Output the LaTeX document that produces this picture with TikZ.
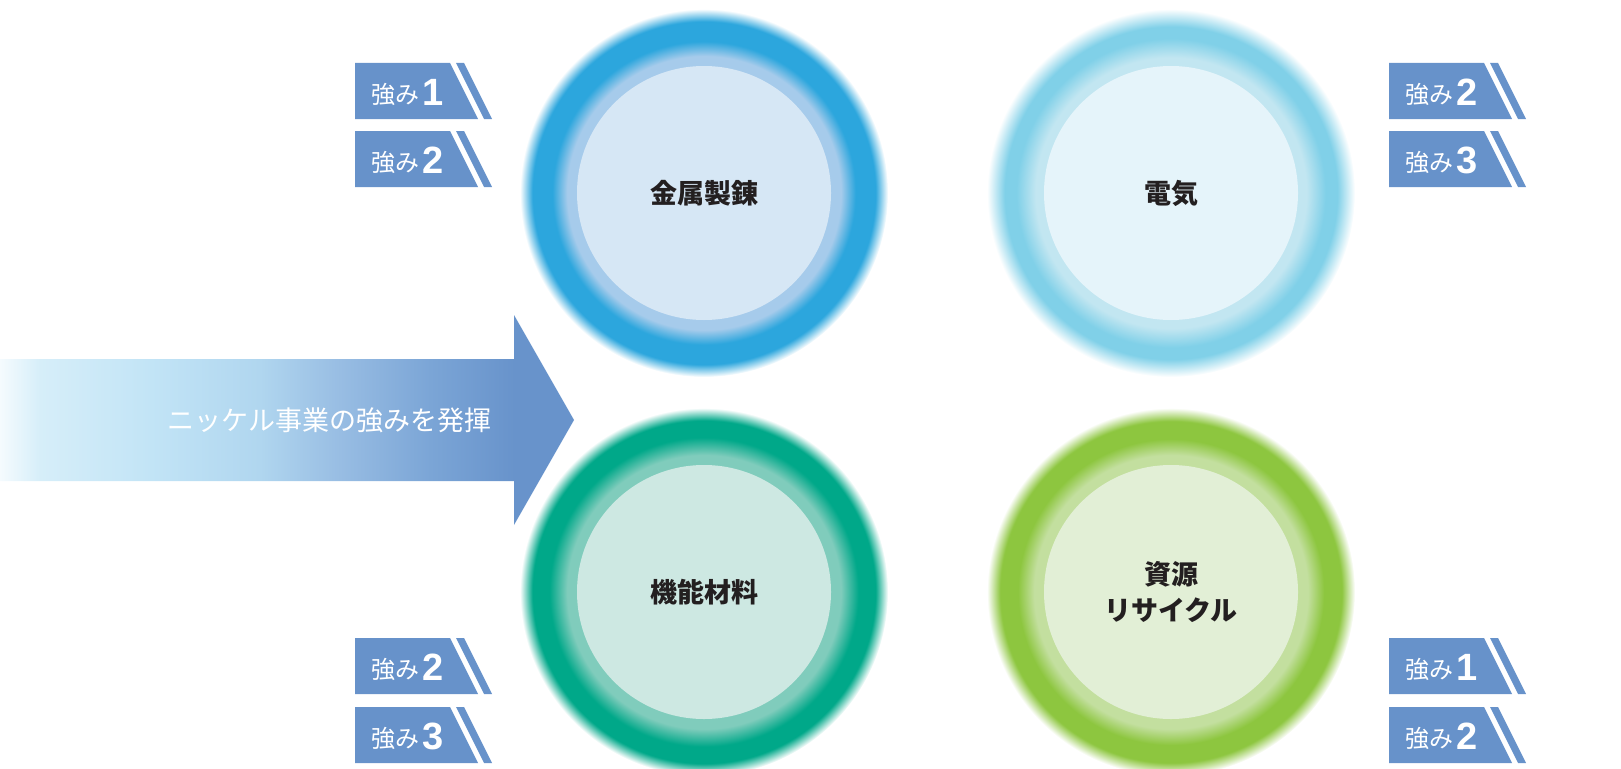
\documentclass[tikz,border=0pt]{standalone}
\usepackage{fontspec}
\newfontfamily\jp{Noto Sans CJK JP}
\newfontfamily\numfont{Liberation Sans}
\definecolor{tagblue}{HTML}{6792CA}
\definecolor{textdark}{HTML}{231F20}
\definecolor{diskA}{HTML}{D6E7F5}\definecolor{lightA}{HTML}{A6CBEB}\definecolor{strongA}{HTML}{2CA6DD}
\definecolor{diskB}{HTML}{E5F4FA}\definecolor{lightB}{HTML}{C2E6F1}\definecolor{strongB}{HTML}{80D0E8}
\definecolor{diskC}{HTML}{CDE8E2}\definecolor{lightC}{HTML}{80CCBC}\definecolor{strongC}{HTML}{00A889}
\definecolor{diskD}{HTML}{E2EFD6}\definecolor{lightD}{HTML}{C3DF9F}\definecolor{strongD}{HTML}{8DC63F}
\definecolor{arA}{HTML}{F5FBFE}\definecolor{arB}{HTML}{D6EEF9}\definecolor{arC}{HTML}{C2E4F6}
\definecolor{arD}{HTML}{B0D6EF}\definecolor{arE}{HTML}{98BDE3}\definecolor{arF}{HTML}{7BA5D6}
\definecolor{arG}{HTML}{6893CB}
\pgfdeclareradialshading{ringA}{\pgfpoint{0bp}{0bp}}{color(0bp)=(lightA); color(18.6bp)=(lightA); color(20.6bp)=(strongA); color(23.3bp)=(strongA); color(25bp)=(white); color(50bp)=(white)}
\pgfdeclareradialshading{ringB}{\pgfpoint{0bp}{0bp}}{color(0bp)=(lightB); color(18.4bp)=(lightB); color(21.0bp)=(strongB); color(22.6bp)=(strongB); color(25bp)=(white); color(50bp)=(white)}
\pgfdeclareradialshading{ringC}{\pgfpoint{0bp}{0bp}}{color(0bp)=(lightC); color(18.6bp)=(lightC); color(21.0bp)=(strongC); color(23.3bp)=(strongC); color(25bp)=(white); color(50bp)=(white)}
\pgfdeclareradialshading{ringD}{\pgfpoint{0bp}{0bp}}{color(0bp)=(lightD); color(18.6bp)=(lightD); color(20.8bp)=(strongD); color(23.2bp)=(strongD); color(25bp)=(white); color(50bp)=(white)}
\pgfdeclarehorizontalshading{arrowgrad}{100bp}{color(0bp)=(arA); color(25bp)=(arA); color(28.5bp)=(arB); color(38.1bp)=(arC); color(47.6bp)=(arD); color(54.6bp)=(arE); color(62.5bp)=(arF); color(69.8bp)=(arG); color(100bp)=(arG)}
\tikzset{
  disk/.style={circle, minimum size=254pt, inner sep=0pt, align=center, text=textdark,
    font=\jp\bfseries\fontsize{27}{36}\selectfont},
  tagfill/.style={fill=tagblue},
  tagtext/.style={anchor=base west, inner sep=0pt, text=white, font=\jp\fontsize{24}{24}\selectfont},
}
\newcommand\mytag[4]{%
  \begin{scope}[shift={(#1,#2)}]
    \fill[tagfill] (0,0) -- (95,0) -- (123,56) -- (0,56) -- cycle;
    \fill[tagfill] (101,0) -- (109,0) -- (137,56) -- (129,56) -- cycle;
    \node[tagtext] (#4) at (16,42) {\raisebox{1.5pt}{強み}\hspace{3pt}{\numfont\bfseries\fontsize{38}{38}\selectfont #3}};
  \end{scope}}
\begin{document}
\begin{tikzpicture}[x=1pt,y=-1pt]
\useasboundingbox (0,0) rectangle (1621,768);
\clip (0,0) rectangle (1621,768);
% arrow
\shade[shading=arrowgrad] (0,359) -- (514,359) -- (514,315) -- (574,420) -- (514,525) -- (514,481) -- (0,481) -- cycle;
\node[anchor=east, inner sep=0pt, text=white, font=\jp\fontsize{27}{27}\selectfont] (arrowtext) at (492,420) {ニッケル事業の強みを発揮};
% circles
\shade[shading=ringA] (704,193) circle[radius=184pt];
\node[disk, fill=diskA] (kinzoku) at (704,193) {金属製錬};
\shade[shading=ringB] (1171,193) circle[radius=184pt];
\node[disk, fill=diskB] (denki) at (1171,193) {電気};
\shade[shading=ringC] (704,592) circle[radius=184pt];
\node[disk, fill=diskC] (kino) at (704,592) {機能材料};
\shade[shading=ringD] (1171,592) circle[radius=184pt];
\node[disk, fill=diskD] (shigen) at (1171,592) {資源\\リサイクル};
% tags
\mytag{355}{63}{1}{tA1}
\mytag{355}{131}{2}{tA2}
\mytag{1389}{63}{2}{tB1}
\mytag{1389}{131}{3}{tB2}
\mytag{355}{638}{2}{tC1}
\mytag{355}{707}{3}{tC2}
\mytag{1389}{638}{1}{tD1}
\mytag{1389}{707}{2}{tD2}
\end{tikzpicture}
\end{document}
